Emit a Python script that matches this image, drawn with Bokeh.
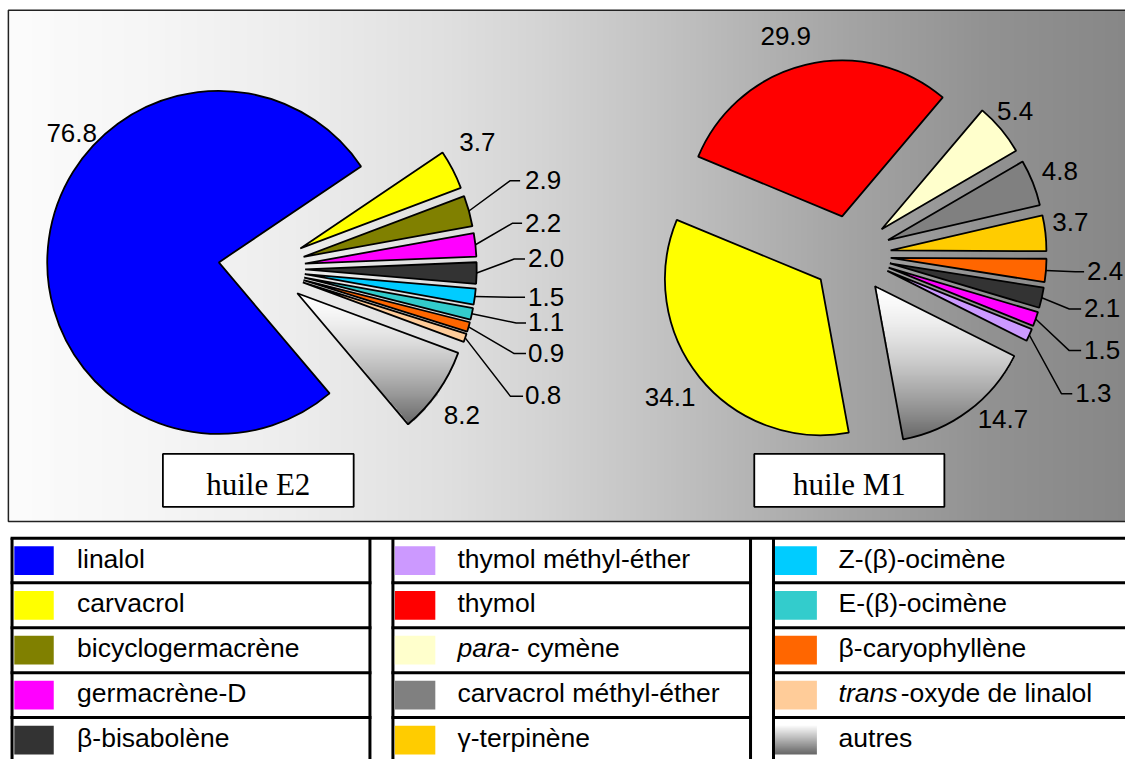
import numpy as np
from bokeh.plotting import figure
from bokeh.models import Range1d, ColumnDataSource
from bokeh.embed import file_html
from bokeh.resources import INLINE
from bokeh.core.properties import value

# ---------------- data ----------------
e2_components = ["linalol", "carvacrol", "bicyclogermacrène", "germacrène-D", "β-bisabolène",
                 "Z-(β)-ocimène", "E-(β)-ocimène", "β-caryophyllène", "trans-oxyde de linalol", "autres"]
e2_values = [76.8, 3.7, 2.9, 2.2, 2.0, 1.5, 1.1, 0.9, 0.8, 8.2]

m1_components = ["thymol", "para-cymène", "carvacrol méthyl-éther", "γ-terpinène", "β-caryophyllène",
                 "β-bisabolène", "germacrène-D", "thymol méthyl-éther", "autres", "carvacrol"]
m1_values = [29.9, 5.4, 4.8, 3.7, 2.4, 2.1, 1.5, 1.3, 14.7, 34.1]

pie_titles = ["huile E2", "huile M1"]

legend_col1 = ["linalol", "carvacrol", "bicyclogermacrène", "germacrène-D", "β-bisabolène"]
legend_col2 = ["thymol méthyl-éther", "thymol", "para-cymène", "carvacrol méthyl-éther", "γ-terpinène"]
legend_col3 = ["Z-(β)-ocimène", "E-(β)-ocimène", "β-caryophyllène", "trans-oxyde de linalol", "autres"]

# ---------------- styles ----------------
component_colors = {
    "linalol": "#0000FF", "carvacrol": "#FFFF00", "bicyclogermacrène": "#808000",
    "germacrène-D": "#FF00FF", "β-bisabolène": "#333333", "thymol méthyl-éther": "#CC99FF",
    "thymol": "#FF0000", "para-cymène": "#FFFFCC", "carvacrol méthyl-éther": "#808080",
    "γ-terpinène": "#FFCC00", "Z-(β)-ocimène": "#00CCFF", "E-(β)-ocimène": "#33CCCC",
    "β-caryophyllène": "#FF6600", "trans-oxyde de linalol": "#FFCC99", "autres": None,
}
# legend entries written with an italic prefix: (italic part, rest, x offset of rest)
legend_italic = {"para-cymène": ("para", "- cymène", 54.0),
                 "trans-oxyde de linalol": ("trans", "-oxyde de linalol", 63.0)}

SANS = value("Liberation Sans")
SERIF = value("Liberation Serif")
W, H = 1125, 759          # canvas size in screen px
RW, RH = 1141.0, 775.0    # layout units (reference frame)
KX, KY = W / RW, H / RH
ASPECT = KY / KX          # screen-y per screen-x for one layout unit
TEXT_DY = 10.0 / KY       # correction of the alphabetic baseline placement
EDGE_W = 1.8

p = figure(width=W, height=H, output_backend="svg", toolbar_location=None,
           x_range=Range1d(0, RW), y_range=Range1d(-RH, 0),
           min_border=0, x_axis_location=None, y_axis_location=None)
p.grid.visible = False
p.outline_line_color = None
p.background_fill_color = "white"
p.border_fill_color = "white"


def Y(py):
    return -np.asarray(py, dtype=float)


def TY(py):
    """data y for a text baseline at layout y"""
    return -np.asarray(py, dtype=float) + TEXT_DY


def pack_gray(vals, alpha):
    img = np.zeros(vals.shape, dtype=np.uint32)
    v = img.view(dtype=np.uint8).reshape(vals.shape + (4,))
    g = np.clip(vals, 0, 255).astype(np.uint8)
    v[..., 0] = g
    v[..., 1] = g
    v[..., 2] = g
    v[..., 3] = alpha
    return img


# ---------------- chart area background (horizontal gradient) ----------------
box_l, box_r, box_t, box_b = 8, 1160, 10, 532
bw = box_r - box_l
gx = box_l + np.arange(bw) + 0.5
stops_x = [8, 150, 300, 450, 550, 700, 860, 1000, 1160]
stops_v = [252, 246, 237, 224, 212, 190, 164, 146, 134]
row = np.interp(gx, stops_x, stops_v)
bg = pack_gray(np.vstack([row, row]), 255)
p.image_rgba(image=[bg], x=box_l, y=-box_b, dw=bw, dh=box_b - box_t)
p.quad(left=box_l, right=box_r, top=-box_t, bottom=-box_b, fill_color=None,
       line_color="#222222", line_width=1.5)


def sector_gradient(ax, ay, R, t1, t2, top=255, bot=104):
    n = int(2 * R / ASPECT + 8)
    x0 = np.floor(ax - n / 2)
    y0 = np.floor(ay - n / 2)
    xs = x0 + np.arange(n) + 0.5
    ys = y0 + np.arange(n) + 0.5
    X, Yg = np.meshgrid(xs, ys)
    dx, dy = X - ax, (Yg - ay) * ASPECT
    r = np.hypot(dx, dy)
    th = np.arctan2(dy, dx)
    rel = np.mod(th - t1, 2 * np.pi)
    inside = (r <= R + 0.3) & (rel <= (t2 - t1))
    rows = np.where(inside.any(axis=1))[0]
    ymin, ymax = ys[rows].min(), ys[rows].max()
    t = np.clip((ymax - Yg) / (ymax - ymin), 0, 1)
    vals = top - (top - bot) * t ** 1.5
    img = pack_gray(vals, np.where(inside, 255, 0).astype(np.uint8))
    p.image_rgba(image=[img], x=x0, y=y0, dw=n, dh=n)


def draw_pie(names, vals, cx, cy, R, d, a0_deg):
    v = np.asarray(vals, dtype=float)
    ang = 2 * np.pi * v / v.sum()
    cum = np.concatenate([[0.0], np.cumsum(ang)])
    a0 = np.radians(a0_deg)
    s_cw = a0 - cum[:-1]
    e_cw = a0 - cum[1:]
    mid = (s_cw + e_cw) / 2
    ax = cx + d * np.cos(mid)
    ay = -cy + d * np.sin(mid) / ASPECT
    cols, alphas = [], []
    for i, nm in enumerate(names):
        c = component_colors[nm]
        if c is None:
            sector_gradient(ax[i], ay[i], R, e_cw[i], s_cw[i])
            cols.append("white")
            alphas.append(0.0)
        else:
            cols.append(c)
            alphas.append(1.0)
    src = ColumnDataSource(dict(x=ax, y=ay, s=e_cw, e=s_cw, c=cols, a=alphas))
    p.wedge(x="x", y="y", radius=R, start_angle="s", end_angle="e", direction="anticlock",
            fill_color="c", fill_alpha="a", line_color="black", line_width=EDGE_W, source=src)
    # outer mid points (layout coords) for leader lines
    ox = ax + R * np.cos(mid)
    oy = -(ay + R * np.sin(mid) / ASPECT)
    return ox, oy


# label layout: (x, digit-centre y, align, leader elbow x, leader end x)
e2_label_layout = [
    (72.2, 136.0, "center", None, None),
    (483.6, 145.2, "center", None, None),
    (532.0, 184.0, "left", 517, 527),
    (532.0, 227.5, "left", 519, 529),
    (535.0, 264.0, "left", 521, 532),
    (535.0, 303.0, "left", 521, 532),
    (535.0, 329.3, "left", 523, 533),
    (535.0, 360.5, "left", 521, 533),
    (532.0, 404.0, "left", 517, 530),
    (468.0, 424.2, "center", None, None),
]
m1_label_layout = [
    (796.4, 36.5, "center", None, None),
    (1029.0, 114.0, "center", None, None),
    (1074.5, 174.5, "center", None, None),
    (1085.0, 226.7, "center", None, None),
    (1102.0, 277.0, "left", 1090, 1099),
    (1099.0, 315.0, "left", 1084, 1096),
    (1099.0, 357.5, "left", 1084, 1096),
    (1090.0, 401.5, "left", 1076, 1087),
    (1016.7, 428.0, "center", None, None),
    (679.2, 406.0, "center", None, None),
]

LABEL_FS = 26


def draw_labels(vals, layout, ox, oy):
    lx, ly, la, lt = [], [], [], []
    mxs, mys = [], []
    for i, (x, cyl, al, ex, en) in enumerate(layout):
        lx.append(x)
        ly.append(float(TY(cyl + 0.358 * LABEL_FS / KY)))
        la.append(al)
        lt.append("%.1f" % vals[i])
        if ex is not None:
            mxs.append([ox[i], ex, en])
            mys.append([-oy[i], -cyl, -cyl])
    if mxs:
        p.multi_line(xs=mxs, ys=mys, line_color="black", line_width=1.5)
    src = ColumnDataSource(dict(x=lx, y=ly, t=lt, a=la))
    p.text(x="x", y="y", text="t", text_align="a", text_baseline="alphabetic",
           text_font=SANS, text_font_size="%dpx" % LABEL_FS, text_color="black", source=src)


ox, oy = draw_pie(e2_components, e2_values, 265.0, 273.5, 174.0, 44.0, -49.8)
draw_labels(e2_values, e2_label_layout, ox, oy)
ox, oy = draw_pie(m1_components, m1_values, 863.0, 259.5, 158.0, 40.0, 157.5)
draw_labels(m1_values, m1_label_layout, ox, oy)

# ---------------- title boxes ----------------
tb_left = [164.7, 764.5]
tb_right = [358.2, 957.3]
p.quad(left=tb_left, right=tb_right, top=Y([463, 463]), bottom=Y([517, 517]),
       fill_color="white", line_color="black", line_width=1.8)
p.text(x=[(a + b) / 2 for a, b in zip(tb_left, tb_right)], y=TY([504, 504]), text=pie_titles,
       text_align="center", text_baseline="alphabetic", text_font=SERIF,
       text_font_size="31px", text_color="black")

# ---------------- legend table ----------------
row_lines = [549.0, 594.6, 640.4, 686.3, 732.2, 778.0]
col_edges = [(11.7, 374.7), (398.0, 760.7), (784.0, 1160.0)]
swatch_x = [(14.0, 54.0), (400.0, 441.0), (785.5, 828.0)]
text_x = [77.7, 463.5, 850.0]
LEG_FS = "26.5px"

hx, hy = [[col_edges[0][0] - 1.5, col_edges[2][1]]], [[-row_lines[0], -row_lines[0]]]
for (l, r) in col_edges:
    for yl in row_lines[1:]:
        hx.append([l - 1.5, r + 1.5])
        hy.append([-yl, -yl])
for (l, r) in col_edges:
    for xv in (l, r):
        hx.append([xv, xv])
        hy.append([-row_lines[0], -row_lines[-1]])
p.multi_line(xs=hx, ys=hy, line_color="black", line_width=3)

for ci, col in enumerate([legend_col1, legend_col2, legend_col3]):
    sl, sr = swatch_x[ci]
    sw_l, sw_r, sw_t, sw_b, sw_c = [], [], [], [], []
    tx, ty, tt = [], [], []
    ix, iy, it = [], [], []
    for ri, name in enumerate(col):
        top = row_lines[ri] + 8.3
        bot = row_lines[ri] + 37.7
        base = row_lines[ri] + 31.2
        c = component_colors[name]
        if c is None:
            hgt = int(round((bot - top) * KY))
            wdt = int(round((sr - sl) * KX))
            colv = 255 - (255 - 104) * (1 - np.linspace(0, 1, hgt))  # row 0 = bottom (dark)
            img_vals = np.repeat(colv[:, None], wdt, axis=1)
            p.image_rgba(image=[pack_gray(img_vals, 255)], x=sl, y=-bot, dw=sr - sl, dh=bot - top)
        else:
            sw_l.append(sl); sw_r.append(sr); sw_t.append(-top); sw_b.append(-bot); sw_c.append(c)
        if name in legend_italic:
            it_part, rest, off = legend_italic[name]
            ix.append(text_x[ci]); iy.append(float(TY(base))); it.append(it_part)
            tx.append(text_x[ci] + off); ty.append(float(TY(base))); tt.append(rest)
        else:
            tx.append(text_x[ci]); ty.append(float(TY(base))); tt.append(name)
    if sw_l:
        p.quad(left=sw_l, right=sw_r, top=sw_t, bottom=sw_b, fill_color=sw_c, line_color=None)
    p.text(x=tx, y=ty, text=tt, text_align="left", text_baseline="alphabetic",
           text_font=SANS, text_font_size=LEG_FS, text_color="black")
    if ix:
        p.text(x=ix, y=iy, text=it, text_align="left", text_baseline="alphabetic",
               text_font=SANS, text_font_style="italic", text_font_size=LEG_FS, text_color="black")

open("out.html", "w").write(file_html(p, INLINE))
